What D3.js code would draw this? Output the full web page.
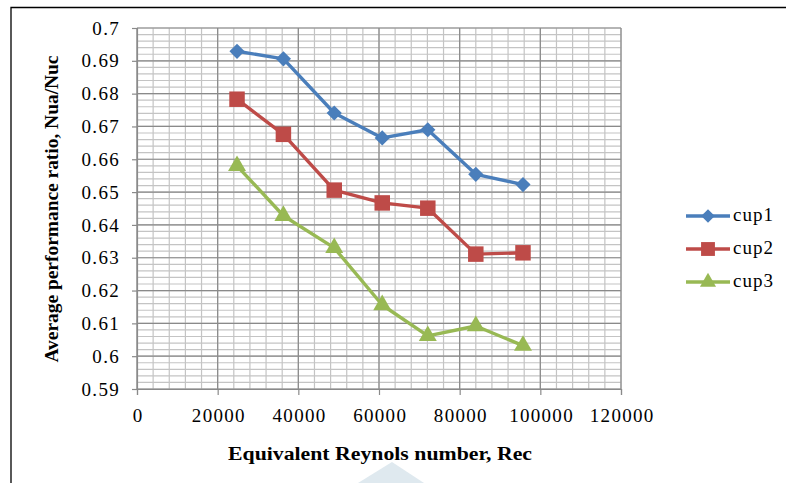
<!DOCTYPE html>
<html>
<head>
<meta charset="utf-8">
<script src="https://cdn.jsdelivr.net/npm/d3@7"></script>
<style>
  body { margin: 0; background: #fff; }
  text { font-family: "Liberation Serif", "Times New Roman", serif; fill: #000; }
</style>
</head>
<body>
<div id="chart"></div>
<script>
// Data
var reynolds = [24800, 36300, 48900, 60800, 72100, 84000, 95700];
var cup1 = [0.6929, 0.6906, 0.6741, 0.6665, 0.6690, 0.6554, 0.6523];
var cup2 = [0.6783, 0.6676, 0.6506, 0.6467, 0.6451, 0.6311, 0.6315];
var cup3 = [0.6580, 0.6428, 0.6330, 0.6156, 0.6062, 0.6092, 0.6032];
var seriesNames = ["cup1", "cup2", "cup3"];
var yTicks = [0.59, 0.6, 0.61, 0.62, 0.63, 0.64, 0.65, 0.66, 0.67, 0.68, 0.69, 0.7];
var xTicks = [0, 20000, 40000, 60000, 80000, 100000, 120000];

var svgWidth = 786;
var svgHeight = 483;

var margin = { top: 28, right: 165, bottom: 94, left: 137 };
var width = svgWidth - margin.left - margin.right;
var height = svgHeight - margin.top - margin.bottom;

var svg = d3.select("#chart")
  .append("svg")
  .attr("width", svgWidth)
  .attr("height", svgHeight);

// faint watermark at the bottom
svg.append("path")
  .attr("d", "M392,462 L424,483 L358,483 Z")
  .attr("fill", "#dfe9ef");

// outer frame (top and left edges only)
svg.append("path")
  .attr("d", "M11,483 L11,7.5 L786,7.5")
  .attr("fill", "none")
  .attr("stroke", "#000")
  .attr("stroke-width", 1.3);

var chartGroup = svg.append("g")
  .attr("transform", `translate(${margin.left}, ${margin.top})`);

var xScale = d3.scaleLinear().domain([0, 120000]).range([0, width]);
var yScale = d3.scaleLinear().domain([0.59, 0.7]).range([height, 0]);

// minor gridlines
var xMinor = d3.range(0, 120001, 4000);
var yMinor = d3.range(0, 56).map(i => 0.59 + i * 0.002);

chartGroup.append("g")
  .selectAll("line")
  .data(xMinor)
  .enter()
  .append("line")
  .attr("x1", d => xScale(d)).attr("x2", d => xScale(d))
  .attr("y1", 0).attr("y2", height)
  .attr("stroke", "#c4c4c4")
  .attr("stroke-width", 1.2);

chartGroup.append("g")
  .selectAll("line")
  .data(yMinor)
  .enter()
  .append("line")
  .attr("x1", 0).attr("x2", width)
  .attr("y1", d => yScale(d)).attr("y2", d => yScale(d))
  .attr("stroke", "#c4c4c4")
  .attr("stroke-width", 1.2);

// major gridlines
chartGroup.append("g")
  .selectAll("line")
  .data(xTicks)
  .enter()
  .append("line")
  .attr("x1", d => xScale(d)).attr("x2", d => xScale(d))
  .attr("y1", 0).attr("y2", height)
  .attr("stroke", "#8a8a8a")
  .attr("stroke-width", 1.2);

chartGroup.append("g")
  .selectAll("line")
  .data(yTicks)
  .enter()
  .append("line")
  .attr("x1", 0).attr("x2", width)
  .attr("y1", d => yScale(d)).attr("y2", d => yScale(d))
  .attr("stroke", "#8a8a8a")
  .attr("stroke-width", 1.2);

// axes
var bottomAxis = d3.axisBottom(xScale).tickValues(xTicks).tickSize(6).tickPadding(14)
  .tickFormat(d3.format("d"));
var leftAxis = d3.axisLeft(yScale).tickValues(yTicks).tickSize(5).tickPadding(12)
  .tickFormat(d => String(+d.toFixed(2)));

var xAxisG = chartGroup.append("g")
  .attr("transform", `translate(0, ${height})`)
  .call(bottomAxis);
var yAxisG = chartGroup.append("g")
  .call(leftAxis);

[xAxisG, yAxisG].forEach(function(g) {
  g.select(".domain").attr("stroke", "#8a8a8a").attr("stroke-width", 1.2);
  g.selectAll(".tick line").attr("stroke", "#8a8a8a").attr("stroke-width", 1.2);
  g.selectAll(".tick text")
    .attr("font-family", "Liberation Serif")
    .style("font-family", "'Liberation Serif', serif")
    .style("font-size", "19px")
    .style("letter-spacing", "1.3px")
    .attr("fill", "#000");
});
xAxisG.selectAll(".tick text").attr("dx", "0.7");

// series
var colors = ["#4a7ebb", "#be4b48", "#98b954"];
var allSeries = [cup1, cup2, cup3];
var shapes = [d3.symbolSquare, d3.symbolSquare, d3.symbolTriangle];
var sizes = [115, 240, 140];
var rotations = [45, 0, 0];

var line = d3.line()
  .x((d, i) => xScale(reynolds[i]))
  .y(d => yScale(d));

allSeries.forEach(function(vals, s) {
  chartGroup.append("path")
    .datum(vals)
    .attr("d", line)
    .attr("fill", "none")
    .attr("stroke", colors[s])
    .attr("stroke-width", 3.4)
    .attr("stroke-linejoin", "round");

  chartGroup.selectAll(null)
    .data(vals)
    .enter()
    .append("path")
    .attr("transform", (d, i) => `translate(${xScale(reynolds[i])}, ${yScale(d)}) rotate(${rotations[s]})`)
    .attr("d", d3.symbol().type(shapes[s]).size(sizes[s]))
    .attr("fill", colors[s]);
});

// legend
var legend = svg.append("g");
seriesNames.forEach(function(name, s) {
  var ly = 216 + s * 33;
  legend.append("line")
    .attr("x1", 686).attr("x2", 730)
    .attr("y1", ly).attr("y2", ly)
    .attr("stroke", colors[s])
    .attr("stroke-width", 3.4);
  legend.append("path")
    .attr("transform", `translate(708, ${ly}) rotate(${rotations[s]})`)
    .attr("d", d3.symbol().type(shapes[s]).size(sizes[s] * 0.8))
    .attr("fill", colors[s]);
  legend.append("text")
    .attr("x", 733)
    .attr("y", ly + 5)
    .style("font-size", "19px")
    .style("letter-spacing", "1px")
    .text(name);
});

// axis titles
svg.append("text")
  .attr("transform", "translate(58, 209) rotate(-90)")
  .attr("text-anchor", "middle")
  .attr("textLength", 307)
  .attr("lengthAdjust", "spacingAndGlyphs")
  .style("font-size", "18px")
  .style("font-weight", "bold")
  .text("Average performance ratio, Nua/Nuc");

svg.append("text")
  .attr("x", 380)
  .attr("y", 460)
  .attr("text-anchor", "middle")
  .attr("textLength", 304)
  .attr("lengthAdjust", "spacingAndGlyphs")
  .style("font-size", "18px")
  .style("font-weight", "bold")
  .text("Equivalent Reynols number, Rec");
</script>
</body>
</html>
